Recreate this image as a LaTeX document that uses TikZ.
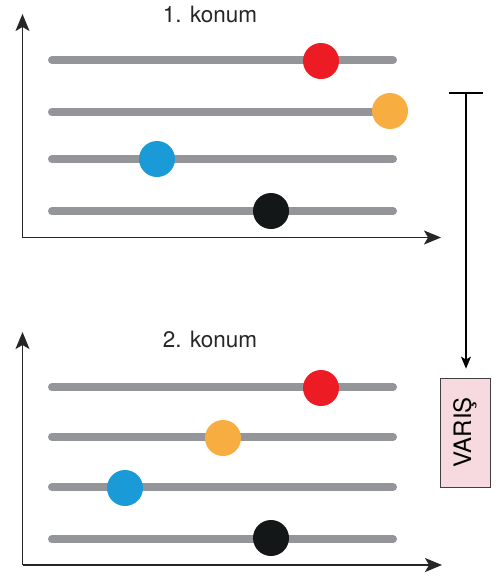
\documentclass[tikz,border=0pt]{standalone}
\usepackage{fontspec}
\setmainfont{TeX Gyre Heros}
\usepackage{tikz}
\usetikzlibrary{arrows.meta}

\definecolor{trackgray}{HTML}{939598}
\definecolor{ballred}{HTML}{ED1C24}
\definecolor{ballorange}{HTML}{F7AD40}
\definecolor{ballblue}{HTML}{1A9AD6}
\definecolor{ballblack}{HTML}{131718}
\definecolor{boxpink}{HTML}{F6DADF}

\tikzset{
	axis/.style={line width=1.6pt,draw=black!85,-{Stealth[length=17pt,width=14pt,inset=4pt]}},
	track/.style={line width=8pt,draw=trackgray,line cap=round},
	ball/.style={shape=circle,minimum size=36pt,inner sep=0pt},
	title/.style={anchor=base,font=\fontsize{22.5}{22.5}\selectfont,text=black!85}
}

\begin{document}
\begin{tikzpicture}[x=1pt,y=-1pt]
	\useasboundingbox (0,0) rectangle (501,576);

	% 1. konum
	\coordinate (O1) at (22.5,237.5);
	\coordinate (Y1) at (22.5,14);
	\coordinate (X1) at (441,237.5);
	\draw[axis] (O1) -- (Y1);
	\draw[axis] (O1) -- (X1);
	\node[title] (T1) at (210,22) {1. konum};
	\foreach \y in {60,112,159,211}
		\draw[track] (52,\y) -- (393,\y);
	\node[ball,fill=ballred] (R1) at (321,61) {};
	\node[ball,fill=ballorange] (S1) at (390,111) {};
	\node[ball,fill=ballblue] (M1) at (157,159) {};
	\node[ball,fill=ballblack] (K1) at (271,211) {};

	% 2. konum
	\coordinate (O2) at (22.5,565);
	\coordinate (Y2) at (22.5,332);
	\coordinate (X2) at (442,565);
	\draw[axis] (O2) -- (Y2);
	\draw[axis] (O2) -- (X2);
	\node[title] (T2) at (210,347) {2. konum};
	\foreach \y in {387,437,487,539}
		\draw[track] (52,\y) -- (393,\y);
	\node[ball,fill=ballred] (R2) at (321,388) {};
	\node[ball,fill=ballorange] (S2) at (223,438) {};
	\node[ball,fill=ballblue] (M2) at (125,488) {};
	\node[ball,fill=ballblack] (K2) at (271,538) {};

	% varis
	\node[draw=black!75,fill=boxpink,line width=0.8pt,minimum width=50pt,minimum height=109pt,inner sep=0pt] (V) at (465,432.5)
		{\rotatebox{90}{\fontsize{24}{24}\selectfont VARIŞ}};
	\coordinate (Ba) at (449,93);
	\coordinate (Bb) at (483,93);
	\coordinate (Bm) at (466,93);
	\draw[line width=1.2pt] (Ba) -- (Bb);
	\draw[line width=1.2pt,shorten >=9pt,-{Stealth[length=12pt,width=10pt,inset=3pt]}] (Bm) -- (Bm |- V.north);
\end{tikzpicture}
\end{document}
